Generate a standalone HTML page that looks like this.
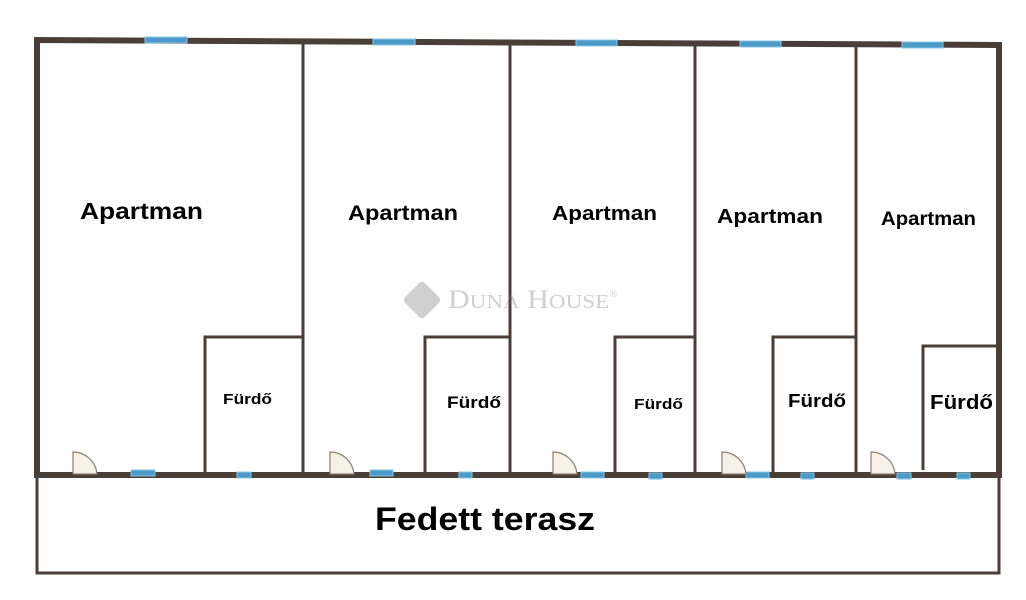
<!DOCTYPE html>
<html><head><meta charset="utf-8"><style>
html,body{margin:0;padding:0;background:#fff;}
svg{display:block}
text{font-family:"Liberation Sans",sans-serif;font-weight:bold;fill:#000}
</style></head><body>
<svg width="1026" height="600" viewBox="0 0 1026 600" xmlns="http://www.w3.org/2000/svg">
<g stroke="#4a3f38" fill="none">
<polyline points="37,476 37,40 999,45 999,476" stroke-width="6"/>
<line x1="34" y1="475" x2="1002" y2="475" stroke-width="6"/>
<polyline points="37,476 37,573 999,573 999,476" stroke-width="3"/>
<line x1="303" y1="41" x2="303" y2="474" stroke-width="3"/>
<line x1="510" y1="42" x2="510" y2="474" stroke-width="3"/>
<line x1="695" y1="43" x2="695" y2="474" stroke-width="3"/>
<line x1="856" y1="44" x2="856" y2="474" stroke-width="3"/>
<polyline points="205,474 205,337 303,337" stroke-width="3"/>
<polyline points="425,474 425,337 510,337" stroke-width="3"/>
<polyline points="615,474 615,337 695,337" stroke-width="3"/>
<polyline points="773,474 773,337 856,337" stroke-width="3"/>
<polyline points="923,470 923,346 999,346" stroke-width="3"/>
</g>
<g fill="#4a9ac8" stroke="#8cc6e4" stroke-width="1">
<rect x="145" y="37" width="42" height="6"/>
<rect x="373" y="39" width="42" height="6"/>
<rect x="576" y="40" width="41" height="6"/>
<rect x="740" y="41" width="41" height="6"/>
<rect x="902" y="42" width="41" height="6"/>
<rect x="131" y="470" width="24" height="6"/>
<rect x="237" y="472" width="14" height="6"/>
<rect x="370" y="470" width="23" height="6"/>
<rect x="459" y="472" width="13" height="6"/>
<rect x="581" y="472" width="23" height="6"/>
<rect x="649" y="473" width="13" height="6"/>
<rect x="746" y="472" width="23" height="6"/>
<rect x="801" y="473" width="13" height="6"/>
<rect x="897" y="473" width="14" height="6"/>
<rect x="957" y="473" width="13" height="6"/>
</g>
<g fill="#f8f1e8" stroke="#8a7f78" stroke-width="1.2">
<path d="M73,474 L73,452 A24,24 0 0 1 97,474 Z"/>
<path d="M330,474 L330,452 A24,24 0 0 1 354,474 Z"/>
<path d="M553,474 L553,452 A24,24 0 0 1 577,474 Z"/>
<path d="M722,474 L722,452 A24,24 0 0 1 746,474 Z"/>
<path d="M871,474 L871,452 A24,24 0 0 1 895,474 Z"/>
</g>
<g opacity="0.4">
<rect x="408" y="286" width="28" height="28" rx="4" transform="rotate(45 422 300)" fill="#888"/>
<text x="448" y="308" textLength="170" lengthAdjust="spacingAndGlyphs" style="font-family:'Liberation Serif',serif;font-weight:normal;fill:#888;font-size:26px">D<tspan font-size="20">UNA</tspan> H<tspan font-size="20">OUSE</tspan><tspan font-size="10" dy="-11">®</tspan></text>
</g>
<text x="80" y="219" font-size="23" textLength="123" lengthAdjust="spacingAndGlyphs">Apartman</text>
<text x="348" y="220" font-size="21" textLength="110" lengthAdjust="spacingAndGlyphs">Apartman</text>
<text x="552" y="220" font-size="20" textLength="105" lengthAdjust="spacingAndGlyphs">Apartman</text>
<text x="717" y="223" font-size="20" textLength="106" lengthAdjust="spacingAndGlyphs">Apartman</text>
<text x="881" y="225" font-size="19" textLength="95" lengthAdjust="spacingAndGlyphs">Apartman</text>
<text x="223" y="404" font-size="15" textLength="49" lengthAdjust="spacingAndGlyphs">Fürdő</text>
<text x="447" y="408" font-size="17" textLength="54" lengthAdjust="spacingAndGlyphs">Fürdő</text>
<text x="634" y="409" font-size="15" textLength="49" lengthAdjust="spacingAndGlyphs">Fürdő</text>
<text x="788" y="407" font-size="18" textLength="58" lengthAdjust="spacingAndGlyphs">Fürdő</text>
<text x="930" y="409" font-size="20" textLength="63" lengthAdjust="spacingAndGlyphs">Fürdő</text>
<text x="375" y="530" font-size="32" textLength="220" lengthAdjust="spacingAndGlyphs">Fedett terasz</text>
</svg>
</body></html>
